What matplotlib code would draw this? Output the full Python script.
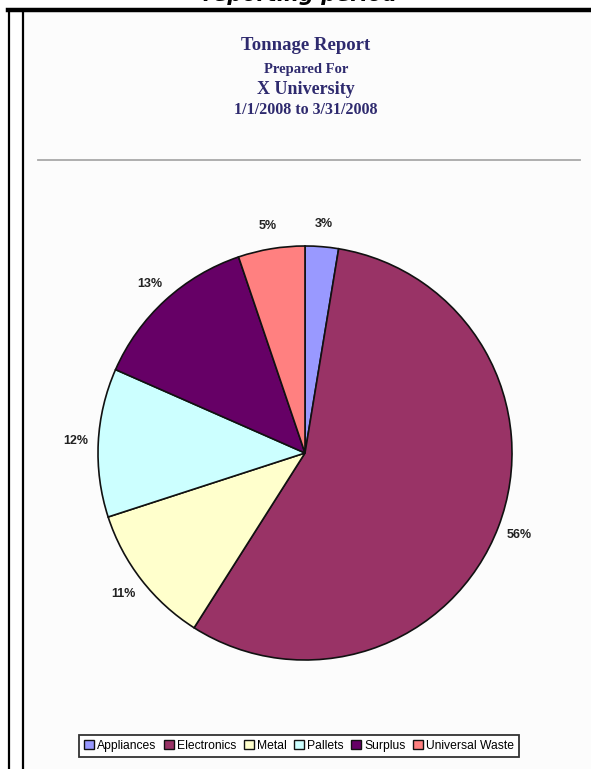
import matplotlib
matplotlib.use("Agg")
import matplotlib.pyplot as plt
from matplotlib.lines import Line2D
from matplotlib.patches import Rectangle

# ---- data ----
categories = ["Appliances", "Electronics", "Metal", "Pallets", "Surplus", "Universal Waste"]
shares = [2.6, 56.4, 11.0, 11.6, 13.2, 5.2]
colors = ["#9999FF", "#993366", "#FFFFCC", "#CCFFFF", "#660066", "#FF8080"]
title_lines = ["Tonnage Report", "Prepared For", "X University", "1/1/2008 to 3/31/2008"]

W, H = 591, 769
fig = plt.figure(figsize=(W / 100, H / 100), dpi=100)
fig.patch.set_facecolor("white")

def fx(px):
    return px / W

def fy(py):
    return 1 - py / H

# page background
fig.add_artist(Rectangle((fx(24), 0), fx(591 - 24), fy(12), transform=fig.transFigure,
                         facecolor="#FCFCFC", edgecolor="none", zorder=0))

# cut-off heading at very top (only its lower part is visible in the page)
fig.text(fx(300), fy(1), "reporting period", ha="center", va="baseline",
         fontsize=15, fontweight="bold", fontstyle="italic", family="DejaVu Sans", color="black")

# borders
fig.add_artist(Line2D([fx(8), fx(591)], [fy(10), fy(10)], transform=fig.transFigure,
                      color="black", lw=3.2))
fig.add_artist(Line2D([fx(9), fx(9)], [fy(10), 0], transform=fig.transFigure,
                      color="black", lw=1.6))
fig.add_artist(Line2D([fx(23), fx(23)], [fy(10), 0], transform=fig.transFigure,
                      color="black", lw=1.6))
fig.add_artist(Line2D([fx(38), fx(580)], [fy(160), fy(160)], transform=fig.transFigure,
                      color="#A8A8A8", lw=1.3))

# title block
navy = "#2E2A6E"
title_y = [46, 70, 90, 110]
title_size = [13.5, 10.5, 13, 11.5]
for t, y, s in zip(title_lines, title_y, title_size):
    fig.text(fx(306), fy(y), t, ha="center", va="center", fontsize=s,
             fontweight="bold", family="Liberation Serif", color=navy)

# pie
R = 207
cx, cy = 305, 453
half = R * 1.3
ax = fig.add_axes([fx(cx - half), fy(cy + half), 2 * half / W, 2 * half / H])
wedges, texts, autotexts = ax.pie(
    shares, colors=colors, startangle=90, counterclock=False,
    autopct="%1.0f%%", pctdistance=1.11,
    wedgeprops=dict(edgecolor="#111111", linewidth=1.2),
    textprops=dict(fontsize=9, fontweight="bold", family="Liberation Sans", color="#222222"),
)
ax.set_xlim(-1.3, 1.3)
ax.set_ylim(-1.3, 1.3)
ax.set_aspect("equal")
ax.axis("off")

# legend
leg = fig.legend(wedges, categories, loc="center", bbox_to_anchor=(fx(299), fy(746)),
                 ncol=6, prop=dict(family="Liberation Sans", size=8.7),
                 frameon=True, fancybox=False, edgecolor="black",
                 handlelength=0.8, handleheight=0.8, handletextpad=0.25,
                 columnspacing=0.65, borderpad=0.45, borderaxespad=0)
leg.get_frame().set_linewidth(1.3)
for h in leg.legend_handles:
    h.set_edgecolor("#111111")
    h.set_linewidth(1.0)

fig.savefig("out.png", dpi=100)
